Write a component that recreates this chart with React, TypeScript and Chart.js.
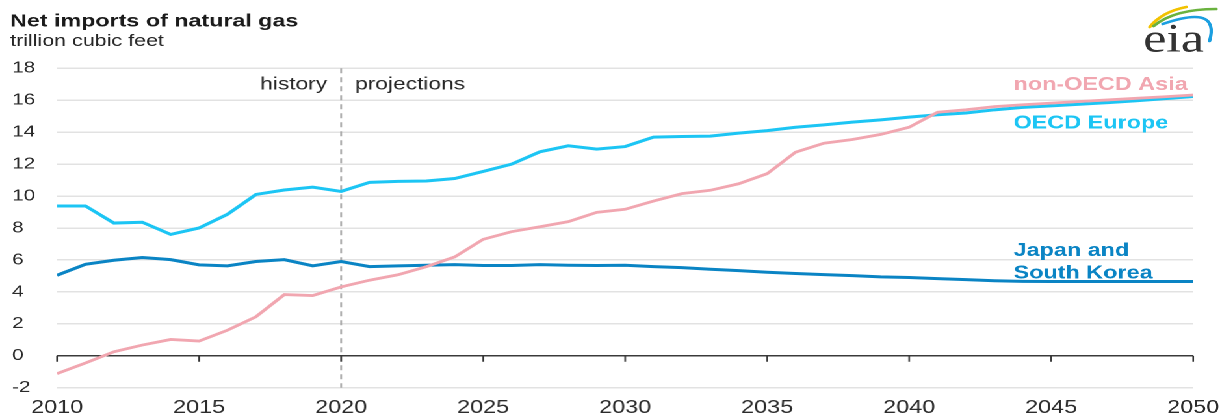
import { useEffect, useRef } from "react";
import Chart from "chart.js/auto";

// ---- data (trillion cubic feet) ----
const years = [
  2010, 2011, 2012, 2013, 2014, 2015, 2016, 2017, 2018, 2019,
  2020, 2021, 2022, 2023, 2024, 2025, 2026, 2027, 2028, 2029,
  2030, 2031, 2032, 2033, 2034, 2035, 2036, 2037, 2038, 2039,
  2040, 2041, 2042, 2043, 2044, 2045, 2046, 2047, 2048, 2049, 2050,
];
const nonOecdAsia = [
  -1.12, -0.45, 0.25, 0.67, 1.02, 0.92, 1.6, 2.44, 3.83, 3.77,
  4.31, 4.73, 5.07, 5.58, 6.19, 7.29, 7.77, 8.08, 8.4, 8.98,
  9.17, 9.69, 10.15, 10.36, 10.77, 11.4, 12.75, 13.31, 13.54, 13.86,
  14.31, 15.25, 15.4, 15.6, 15.72, 15.82, 15.92, 16.02, 16.12, 16.22, 16.33,
];
const oecdEurope = [
  9.38, 9.38, 8.31, 8.36, 7.6, 8.0, 8.86, 10.1, 10.38, 10.56,
  10.29, 10.86, 10.92, 10.94, 11.1, 11.54, 12.0, 12.77, 13.15, 12.94,
  13.1, 13.69, 13.73, 13.75, 13.94, 14.1, 14.31, 14.46, 14.63, 14.77,
  14.94, 15.09, 15.2, 15.4, 15.55, 15.65, 15.75, 15.85, 15.97, 16.1, 16.23,
];
const japanSouthKorea = [
  5.04, 5.73, 5.98, 6.15, 6.02, 5.69, 5.63, 5.9, 6.02, 5.63,
  5.9, 5.58, 5.63, 5.67, 5.71, 5.65, 5.65, 5.71, 5.67, 5.65,
  5.67, 5.58, 5.52, 5.42, 5.33, 5.23, 5.15, 5.08, 5.02, 4.94,
  4.9, 4.83, 4.77, 4.7, 4.66, 4.65, 4.65, 4.65, 4.65, 4.65, 4.65,
];
const xTicks = [2010, 2015, 2020, 2025, 2030, 2035, 2040, 2045, 2050];
const yTicks = [-2, 0, 2, 4, 6, 8, 10, 12, 14, 16, 18];
const historyEndYear = 2020;

const titleText = "Net imports of natural gas";
const subtitleText = "trillion cubic feet";
const historyText = "history";
const projectionsText = "projections";
const labelAsia = "non-OECD Asia";
const labelEurope = "OECD Europe";
const labelJapan1 = "Japan and";
const labelJapan2 = "South Korea";

// ---- styling ----
const S = 1.3; // horizontal stretch of the reference
const W = 1231 / S;
const H = 419;
const FONT = '"Liberation Sans", Arial, sans-serif';
const PINK = "#f1a6b0";
const CYAN = "#1cc5f4";
const BLUE = "#0a84c4";
const TEXT = "#262626";

const zip = (vals: number[]) => years.map((yr, i) => ({ x: yr, y: vals[i] }));

const annotations = {
  id: "annotations",
  beforeDatasetsDraw(chart: any) {
    const { ctx, chartArea, scales } = chart;
    const x = scales.x;
    const y = scales.y;
    ctx.save();
    const xd = x.getPixelForValue(historyEndYear);
    ctx.strokeStyle = "#a8a8a8";
    ctx.lineWidth = 1.4;
    ctx.setLineDash([5, 4]);
    ctx.beginPath();
    ctx.moveTo(xd, chartArea.top);
    ctx.lineTo(xd, chartArea.bottom);
    ctx.stroke();
    ctx.setLineDash([]);
    const y0 = y.getPixelForValue(0);
    ctx.strokeStyle = "#333";
    ctx.lineWidth = 1.3;
    for (const t of xTicks) {
      const px = x.getPixelForValue(t);
      ctx.beginPath();
      ctx.moveTo(px, y0);
      ctx.lineTo(px, y0 + 6);
      ctx.stroke();
    }
    ctx.restore();
  },
  afterDraw(chart: any) {
    const { ctx } = chart;
    ctx.save();
    ctx.textBaseline = "alphabetic";
    ctx.textAlign = "left";
    ctx.fillStyle = "#1a1a1a";
    ctx.font = `bold 17.9px ${FONT}`;
    ctx.fillText(titleText, 7.7, 26.7);
    ctx.fillStyle = TEXT;
    ctx.font = `16.5px ${FONT}`;
    ctx.fillText(subtitleText, 7.7, 46);

    ctx.font = `17.5px ${FONT}`;
    ctx.textAlign = "right";
    ctx.fillText(historyText, 251.5, 89.5);
    ctx.textAlign = "left";
    ctx.fillText(projectionsText, 273, 89.5);

    ctx.font = `bold 18px ${FONT}`;
    ctx.fillStyle = PINK;
    ctx.fillText(labelAsia, 779.2, 90);
    ctx.fillStyle = CYAN;
    ctx.fillText(labelEurope, 779.2, 128.3);
    ctx.fillStyle = BLUE;
    ctx.fillText(labelJapan1, 779.2, 256);
    ctx.fillText(labelJapan2, 779.2, 278.3);

    // eia logo
    ctx.lineCap = "round";
    ctx.lineWidth = 2.6;
    ctx.strokeStyle = "#f2c200";
    ctx.beginPath();
    ctx.moveTo(884, 27);
    ctx.quadraticCurveTo(893, 12, 912, 7);
    ctx.stroke();
    ctx.strokeStyle = "#6ab23e";
    ctx.beginPath();
    ctx.moveTo(887, 26);
    ctx.quadraticCurveTo(903, 9, 935, 9);
    ctx.stroke();
    ctx.strokeStyle = "#1b9fe0";
    ctx.beginPath();
    ctx.moveTo(894, 24);
    ctx.quadraticCurveTo(938, 4, 930, 41);
    ctx.stroke();
    ctx.fillStyle = "#333";
    ctx.font = `40px "Liberation Serif", "DejaVu Serif", serif`;
    ctx.fillText("eia", 879, 51.5);
    ctx.restore();
  },
};

export default function App() {
  const ref = useRef<HTMLCanvasElement>(null);
  useEffect(() => {
    if (!ref.current) return;
    const chart = new Chart(ref.current, {
      type: "line",
      data: {
        datasets: [
          { label: labelAsia, data: zip(nonOecdAsia), borderColor: PINK, borderWidth: 2.8 },
          { label: labelEurope, data: zip(oecdEurope), borderColor: CYAN, borderWidth: 3 },
          { label: "Japan and South Korea", data: zip(japanSouthKorea), borderColor: BLUE, borderWidth: 3 },
        ],
      },
      options: {
        animation: false,
        responsive: true,
        maintainAspectRatio: false,
        devicePixelRatio: 2,
        elements: { point: { radius: 0 }, line: { tension: 0, fill: false } },
        layout: { padding: { left: 9.2, right: W - 920, top: 68.3, bottom: 0 } },
        plugins: { legend: { display: false }, tooltip: { enabled: false }, title: { display: false } },
        scales: {
          x: {
            type: "linear",
            min: 2010,
            max: 2050,
            afterBuildTicks: (s: any) => { s.ticks = xTicks.map((v) => ({ value: v })); },
            afterFit: (s: any) => { s.height = 31.3; },
            grid: { display: false, drawTicks: false },
            border: { display: false },
            ticks: {
              padding: 9.5,
              color: "#2b2b2b",
              font: { family: FONT, size: 18 },
              maxRotation: 0,
              autoSkip: false,
              callback: (v: any) => String(v),
            },
          },
          y: {
            min: -2,
            max: 18,
            afterBuildTicks: (s: any) => { s.ticks = yTicks.map((v) => ({ value: v })); },
            afterFit: (s: any) => { s.width = 34.65; },
            border: { display: false },
            grid: {
              drawTicks: false,
              lineWidth: 1.5,
              color: (c: any) => (c.tick && c.tick.value === 0 ? "#3a3a3a" : "#e2e2e2"),
            },
            ticks: {
              crossAlign: "far",
              color: "#2b2b2b",
              font: { family: FONT, size: 16 },
              callback: (v: any) => String(v),
            },
          },
        },
      },
      plugins: [annotations],
    });
    return () => chart.destroy();
  }, []);
  return (
    <div
      style={{
        position: "absolute",
        left: 0,
        top: 0,
        width: W,
        height: H,
        transform: `scaleX(${S})`,
        transformOrigin: "0 0",
        background: "#fff",
      }}
    >
      <canvas ref={ref} />
    </div>
  );
}
